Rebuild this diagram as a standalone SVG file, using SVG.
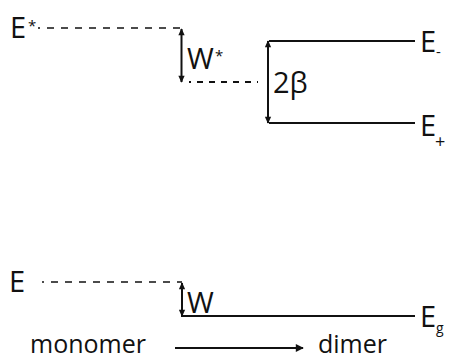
<svg xmlns="http://www.w3.org/2000/svg" width="449" height="360" viewBox="0 0 449 360">
  <style>
    .lbl { font-family: "Open Sans", "DejaVu Sans", sans-serif; font-size: 29px; fill: #111; }
    .big { font-family: "Open Sans", "DejaVu Sans", sans-serif; font-size: 25px; fill: #111; }
    .sup { font-family: "Open Sans", "DejaVu Sans", sans-serif; font-size: 15px; fill: #111; }
    .level { stroke: #111; stroke-width: 2.2; fill: none; }
    .dash-thin { stroke: #111; stroke-width: 1.4; fill: none; stroke-dasharray: 7 7; }
    .dash-thick { stroke: #111; stroke-width: 2; fill: none; stroke-dasharray: 6 6; }
    .gap { stroke: #111; stroke-width: 2; fill: none; marker-start: url(#tip); marker-end: url(#tip); }
  </style>
  <defs>
    <marker id="tip" viewBox="0 0 10 10" refX="9" refY="5" markerWidth="8" markerHeight="7" orient="auto-start-reverse" markerUnits="userSpaceOnUse">
      <path d="M0,0.5 L10,5 L0,9.5 Z" fill="#111"/>
    </marker>
    <marker id="head" viewBox="0 0 10 10" refX="9" refY="5" markerWidth="11" markerHeight="8" orient="auto" markerUnits="userSpaceOnUse">
      <path d="M0,0 L10,5 L0,10 Z" fill="#111"/>
    </marker>
  </defs>

  <!-- connectors: levels, dashed guides and gap arrows -->
  <g id="connectors">
    <line class="dash-thin" x1="38" y1="28" x2="182" y2="28" stroke-dashoffset="5"/>
    <line class="dash-thick" x1="189" y1="82" x2="258" y2="82" stroke-dashoffset="4"/>
    <line class="dash-thin" x1="42" y1="282" x2="182" y2="282" stroke-dashoffset="5"/>
    <line class="gap" x1="181.5" y1="29" x2="181.5" y2="82"/>
    <line class="gap" x1="268" y1="41" x2="268" y2="123"/>
    <line class="gap" x1="182" y1="283" x2="182" y2="316"/>
    <line class="level" x1="269" y1="41" x2="415" y2="41"/>
    <line class="level" x1="269" y1="123" x2="415" y2="123"/>
    <line class="level" x1="181" y1="316" x2="415" y2="316"/>
    <line stroke="#111" stroke-width="2" x1="175" y1="348" x2="303" y2="348" marker-end="url(#head)"/>
  </g>

  <g id="excited-monomer">
    <text class="lbl" x="10" y="38">E</text>
    <text class="sup" x="28" y="31">*</text>
  </g>
  <g id="excited-shift">
    <text class="lbl" x="187" y="69">W</text>
    <text class="sup" x="215" y="61">*</text>
  </g>
  <g id="splitting">
    <text class="lbl" x="273" y="93">2β</text>
  </g>
  <g id="upper-state">
    <text class="lbl" x="420" y="52">E</text>
    <text class="sup" x="436" y="57">-</text>
  </g>
  <g id="lower-state">
    <text class="lbl" x="420" y="136">E</text>
    <text class="sup" x="435" y="148" style="font-size:18px">+</text>
  </g>
  <g id="ground-monomer">
    <text class="lbl" x="9" y="292">E</text>
  </g>
  <g id="ground-shift">
    <text class="lbl" x="187" y="313">W</text>
  </g>
  <g id="ground-dimer">
    <text class="lbl" x="420" y="327">E</text>
    <text class="sup" x="436" y="333" style="font-size:14px">g</text>
  </g>
  <g id="axis-labels">
    <text class="big" x="30" y="353">monomer</text>
    <text class="big" x="318" y="353">dimer</text>
  </g>
</svg>
